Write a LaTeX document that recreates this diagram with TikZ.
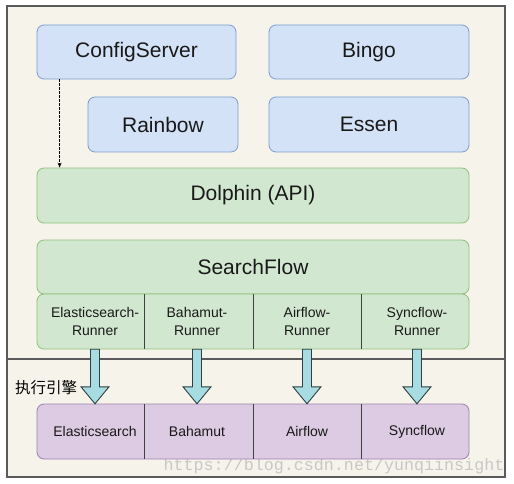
\documentclass[tikz,border=0pt]{standalone}
\usepackage{fontspec}
\setmainfont{Liberation Sans}
\newfontfamily\cjkfont{Noto Sans CJK SC}
\newfontfamily\wmfont{Liberation Mono}
\usetikzlibrary{calc,arrows.meta}
\definecolor{bgc}{HTML}{F6F4EA}
\definecolor{framec}{HTML}{5A5A5A}
\definecolor{bluefill}{HTML}{D4E2F7}
\definecolor{bluedraw}{HTML}{7C9CD0}
\definecolor{greenfill}{HTML}{D2E7D0}
\definecolor{greendraw}{HTML}{8CC07A}
\definecolor{purplefill}{HTML}{DCCBE2}
\definecolor{purpledraw}{HTML}{9E7FB0}
\definecolor{arrowfill}{HTML}{A6DCE2}
\definecolor{arrowdraw}{HTML}{2F3E40}
\begin{document}
\begin{tikzpicture}[x=1pt,y=-1pt,
  box/.style={rounded corners=7pt, inner sep=0pt, line width=0.8pt,
    font=\fontsize{21}{25}\selectfont, text=black!90},
  bluebox/.style={box, fill=bluefill, draw=bluedraw},
  greenbox/.style={box, fill=greenfill, draw=greendraw},
  purplebox/.style={box, fill=purplefill, draw=purpledraw},
  cell/.style={inner sep=0pt, minimum height=55pt, align=center,
    font=\fontsize{14}{18}\selectfont, text=black!90},
  divider/.style={draw=black!75, line width=0.8pt},
  blockarrow/.style={fill=arrowfill, draw=arrowdraw, line width=0.9pt, line join=miter},
  dasharrow/.style={draw=black, line width=0.7pt, dash pattern=on 2.5pt off 1.5pt, -{Stealth[length=5pt,width=4pt]}}
]
\useasboundingbox (0,0) rectangle (514,484);
\fill[white] (0,0) rectangle (514,484);
\draw[fill=bgc, draw=framec, line width=1.3pt] (7,6) rectangle (505,477);
\draw[draw=framec, line width=1.3pt] (7,359) -- (505,359);

% watermark
\node[font=\wmfont\fontsize{16.7}{18}\selectfont, text=black!22, inner sep=0pt] (wm) at (334,466) {https://blog.csdn.net/yunqiinsight};

% top boxes
\node[bluebox, minimum width=199pt, minimum height=54pt] (cs) at (136.5,52) {ConfigServer};
\node[bluebox, minimum width=200pt, minimum height=54pt] (bingo) at (369,52) {Bingo};
\node[bluebox, minimum width=150pt, minimum height=55pt] (rain) at (163,124.5) {Rainbow};
\node[bluebox, minimum width=200pt, minimum height=55pt] (essen) at (369,124.5) {Essen};

% green layer
\node[greenbox, minimum width=432pt, minimum height=55pt] (dol) at (253,195.5) {Dolphin (API)};
\node[greenbox, minimum width=432pt, minimum height=54pt] (sf) at (253,267) {SearchFlow};
\node[greenbox, minimum width=432pt, minimum height=55pt] (runrow) at (253,321.5) {};
\draw[divider] (144,294) -- (144,349);
\draw[divider] (253,294) -- (253,349);
\draw[divider] (361,294) -- (361,349);
\node[cell] (r1) at (95,321.5) {Elasticsearch-\\Runner};
\node[cell] (r2) at (197,321.5) {Bahamut-\\Runner};
\node[cell] (r3) at (307,321.5) {Airflow-\\Runner};
\node[cell] (r4) at (417,321.5) {Syncflow-\\Runner};

% purple layer
\node[purplebox, minimum width=432pt, minimum height=55pt] (engrow) at (253,431.5) {};
\draw[divider] (144,404) -- (144,459);
\draw[divider] (253,404) -- (253,459);
\draw[divider] (361,404) -- (361,459);
\node[cell] (p1) at (95,431.5) {Elasticsearch};
\node[cell] (p2) at (197,431.5) {Bahamut};
\node[cell] (p3) at (307,431.5) {Airflow};
\node[cell] (p4) at (417,431.5) {Syncflow};

\node[anchor=west, inner sep=0pt, font=\cjkfont\fontsize{15.5}{18}\selectfont] (lbl) at (15,388) {执行引擎};

% dashed connector
\coordinate (dstart) at ($(cs.south west)+(23,0)$);
\draw[dasharrow] (dstart) -- (dstart |- dol.north);

% block arrows
\foreach \i in {1,2,3,4}{
  \draw[blockarrow] ($(r\i.south)+(-4.5,0)$) -- ($(r\i.south)+(4.5,0)$)
    -- ($(p\i.north)+(4.5,-17)$) -- ($(p\i.north)+(14,-17)$) -- (p\i.north)
    -- ($(p\i.north)+(-14,-17)$) -- ($(p\i.north)+(-4.5,-17)$) -- cycle;
}
\end{tikzpicture}
\end{document}
